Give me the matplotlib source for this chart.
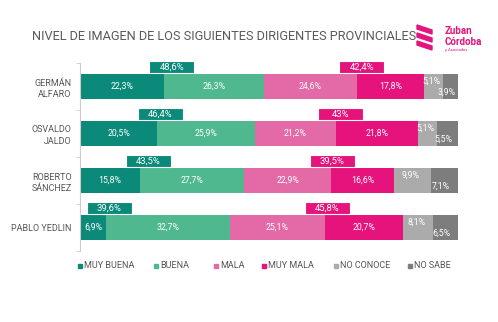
import matplotlib
matplotlib.use("Agg")
import matplotlib.pyplot as plt
from matplotlib.patches import Polygon, Rectangle
import numpy as np

plt.rcParams['font.family'] = ['Roboto', 'DejaVu Sans']

# data
dirigentes = ["GERMÁN\nALFARO", "OSVALDO\nJALDO", "ROBERTO\nSÁNCHEZ", "PABLO YEDLIN"]
categorias = ["MUY BUENA", "BUENA", "MALA", "MUY MALA", "NO CONOCE", "NO SABE"]
muy_buena = [22.3, 20.5, 15.8, 6.9]
buena = [26.3, 25.9, 27.7, 32.7]
mala = [24.6, 21.2, 22.9, 25.1]
muy_mala = [17.8, 21.8, 16.6, 20.7]
no_conoce = [5.1, 5.1, 9.9, 8.1]
no_sabe = [3.9, 5.5, 7.1, 6.5]
positiva = ["48,6%", "46,4%", "43,5%", "39,6%"]
negativa = ["42,4%", "43%", "39,5%", "45,8%"]

# layout of the summary boxes (x centre, data units)
pos_box_x = [24.3, 21.2, 18.0, 7.8]
neg_box_x = [74.6, 69.0, 66.7, 65.5]

colores = ["#0b8a7a", "#4fb88f", "#e36aa6", "#e5137b", "#ababab", "#7d7d7d"]

series = [muy_buena, buena, mala, muy_mala, no_conoce, no_sabe]

fig = plt.figure(figsize=(4.98, 3.22), dpi=100)
ax = fig.add_axes([80 / 498, 1 - 251 / 322, 378 / 498, 188 / 322])

y = np.arange(len(dirigentes))
h = 0.55
left = np.zeros(len(dirigentes))
for k, (vals, col) in enumerate(zip(series, colores)):
    vals = np.array(vals)
    ax.barh(y, vals, left=left, height=h, color=col, edgecolor="none")
    for i, v in enumerate(vals):
        cx = left[i] + v / 2
        cy = y[i]
        txt = f"{v:.1f}".replace(".", ",") + "%"
        if k == 4:
            cx -= 0.5
            cy -= 0.12
        elif k == 5:
            cx -= 1.0
            cy += 0.13
        ax.text(cx, cy, txt, ha="center", va="center", color="white", fontsize=6.3)
    left += vals

# summary boxes above bars
bw, bh = 11.9, 0.25
for i in range(len(dirigentes)):
    for bx, lab, col in [(pos_box_x[i], positiva[i], colores[0]),
                         (neg_box_x[i], negativa[i], colores[3])]:
        top = y[i] - h / 2 - 0.01
        ax.add_patch(Rectangle((bx - bw / 2, top - bh), bw, bh, facecolor=col,
                               edgecolor="white", lw=0.8, clip_on=False, zorder=3))
        ax.text(bx, top - bh / 2, lab, ha="center", va="center", color="white",
                fontsize=6.8, zorder=4)

ax.set_xlim(0, 100)
ax.set_ylim(3.5, -0.5)
ax.set_yticks(y)
ax.set_yticklabels(dirigentes, fontsize=6.5, color="#555555", linespacing=1.3)
ax.set_yticks(np.arange(-0.5, 4, 1), minor=True)
ax.tick_params(axis="y", which="major", length=0, pad=6)
ax.tick_params(axis="y", which="minor", length=3, color="#cccccc")
ax.set_xticks([])
for s in ["top", "right", "bottom"]:
    ax.spines[s].set_visible(False)
ax.spines["left"].set_color("#cccccc")
ax.spines["left"].set_linewidth(0.8)

# title
fig.text(32 / 498, 1 - 37 / 322, "NIVEL DE IMAGEN DE LOS SIGUIENTES DIRIGENTES PROVINCIALES",
         fontsize=9.2, color="#5a5a5a", ha="left", va="center")

# logo
pink = "#e5137b"
for off in [0, 8, 16]:
    pts = [(417, 25 + off), (432, 30 + off), (432, 34 + off), (417, 29 + off)]
    fig.add_artist(Polygon([(px / 498, 1 - py / 322) for px, py in pts],
                           closed=True, color=pink, transform=fig.transFigure))
fig.text(445 / 498, 1 - 31 / 322, "Zuban", fontsize=7, color=pink, weight="bold", va="center")
fig.text(445 / 498, 1 - 42 / 322, "Córdoba", fontsize=7, color=pink, weight="bold", va="center")
fig.text(445 / 498, 1 - 50 / 322, "y Asociados", fontsize=3, color=pink, va="center")

# legend
leg_x = [78, 154, 214, 262, 334, 408]
for xl, lab, col in zip(leg_x, categorias, colores):
    fig.add_artist(Rectangle((xl / 498, 1 - 268 / 322), 4 / 498, 4 / 322,
                             color=col, transform=fig.transFigure))
    fig.text((xl + 6) / 498, 1 - 266 / 322, lab, fontsize=6.5, color="#555555",
             ha="left", va="center")

fig.savefig("out.png", dpi=100)
